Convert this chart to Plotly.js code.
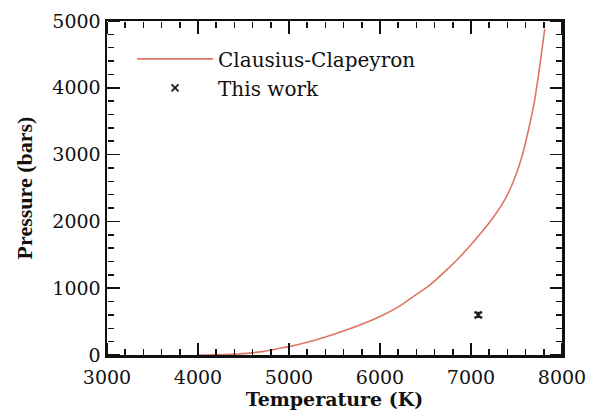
<!DOCTYPE html>
<html>
<head>
<meta charset="utf-8">
<script src="https://cdn.plot.ly/plotly-3.0.1.min.js"></script>
<style>html,body{margin:0;padding:0;background:#fff}#chart{width:596px;height:417px}</style>
</head>
<body>
<div id="chart"></div>
<script>
// Clausius-Clapeyron curve
var ccTemperature = [4000, 4300, 4500, 4700, 4900, 5000, 5200, 5400, 5600, 5800, 6000, 6200, 6360, 6550, 6730, 6850, 6980, 7100, 7240, 7390, 7500, 7570, 7640, 7700, 7745, 7780, 7810];
var ccPressure    = [0, 8, 20, 50, 100, 125, 190, 270, 360, 460, 575, 720, 870, 1050, 1270, 1430, 1620, 1810, 2050, 2370, 2720, 3020, 3420, 3820, 4220, 4570, 4880];
// This work
var workTemperature = [7080];
var workPressure    = [600];
var workError       = [35];
// Axis ranges
var xRange = [3000, 8000];
var yRange = [0, 5000];

var serif = '"DejaVu Serif", "Liberation Serif", serif';
var tickFont = {family: serif, size: 19, color: '#111'};
var legendFont = {family: serif, size: 20, color: '#111'};
var xTitleFont = {family: serif, size: 19, color: '#111', weight: 'bold'};
var yTitleFont = {family: '"Liberation Serif", "Times New Roman", serif', size: 22, color: '#111', weight: 'bold'};

var traces = [
  {
    x: ccTemperature, y: ccPressure, type: 'scatter', mode: 'lines',
    name: 'Clausius-Clapeyron',
    line: {color: '#dc7662', width: 1.6, shape: 'spline', smoothing: 0.8}
  },
  {
    x: workTemperature, y: workPressure, type: 'scatter', mode: 'markers',
    name: 'This work',
    marker: {symbol: 'x-thin-open', size: 7, color: '#222', line: {width: 2, color: '#222'}},
    error_y: {type: 'data', array: workError, visible: true, color: '#222', thickness: 1.5, width: 4}
  },
  // empty carriers so the tick-only frame axes get drawn
  {x: [], y: [], type: 'scatter', mode: 'lines', xaxis: 'x2', yaxis: 'y2', showlegend: false, hoverinfo: 'skip'},
  {x: [], y: [], type: 'scatter', mode: 'lines', xaxis: 'x3', yaxis: 'y3', showlegend: false, hoverinfo: 'skip'}
];

// tick-only overlay axes: "outside" ticks of an axis placed on the opposite edge point into the plot
function tickAxis(side, pos, overlay, dtick, range) {
  return {
    overlaying: overlay, side: side, anchor: 'free', position: pos,
    range: range, tickmode: 'linear', tick0: range[0], dtick: dtick,
    ticks: 'outside', ticklen: 12, tickwidth: 1.5, tickcolor: '#111',
    minor: {ticks: 'outside', ticklen: 6, tickwidth: 1.5, dtick: dtick / 5, tickcolor: '#111', showgrid: false},
    showticklabels: false, showline: false, showgrid: false, zeroline: false
  };
}

var layout = {
  width: 596, height: 417,
  margin: {l: 107, r: 34, t: 21, b: 62},
  paper_bgcolor: '#fff', plot_bgcolor: 'rgba(0,0,0,0)',
  showlegend: true,
  legend: {
    x: 0.055, xanchor: 'left', y: 0.945, yanchor: 'top',
    bgcolor: 'rgba(0,0,0,0)', borderwidth: 0,
    font: legendFont, itemwidth: 76, tracegroupgap: 0
  },
  xaxis: {
    range: xRange, tickmode: 'linear', tick0: 3000, dtick: 1000,
    ticks: 'inside', ticklen: 12, tickwidth: 1.5, tickcolor: '#111',
    showline: true, linewidth: 2.5, linecolor: '#111', mirror: 'ticks',
    showgrid: false, zeroline: false, ticklabelstandoff: 4,
    tickfont: tickFont,
    title: {text: 'Temperature (K)', font: xTitleFont, standoff: 2}
  },
  yaxis: {
    range: yRange, tickmode: 'linear', tick0: 0, dtick: 1000,
    ticks: 'inside', ticklen: 12, tickwidth: 1.5, tickcolor: '#111',
    showline: true, linewidth: 2.5, linecolor: '#111', mirror: 'ticks',
    showgrid: false, zeroline: false,
    tickfont: tickFont,
    title: {text: 'Pressure (bars)', font: yTitleFont, standoff: 14}
  },
  xaxis2: tickAxis('top', 0, 'x', 1000, xRange),
  xaxis3: tickAxis('bottom', 1, 'x', 1000, xRange),
  yaxis2: tickAxis('right', 0, 'y', 1000, yRange),
  yaxis3: tickAxis('left', 1, 'y', 1000, yRange)
};

Plotly.newPlot('chart', traces, layout, {displayModeBar: false, staticPlot: true});
</script>
</body>
</html>
